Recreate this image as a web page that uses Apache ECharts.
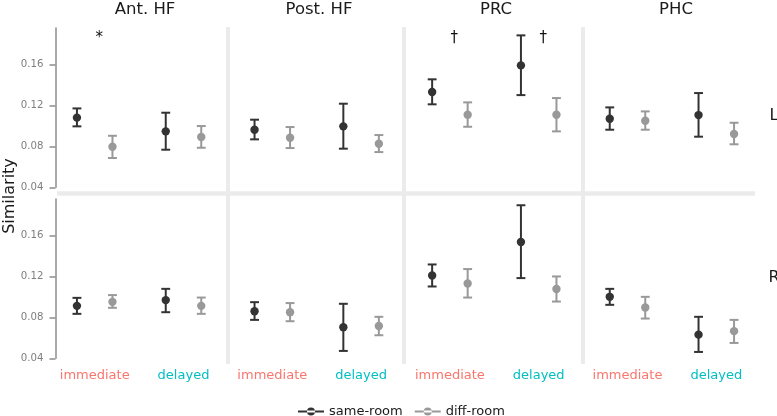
<!DOCTYPE html>
<html>
<head>
<meta charset="utf-8">
<script src="https://cdn.jsdelivr.net/npm/echarts@6/dist/echarts.min.js"></script>
<style>html,body{margin:0;padding:0;background:#fff}#c{width:777px;height:416px}</style>
</head>
<body>
<div id="c"></div>
<script>
// ---------- data ----------
const panels = ['Ant. HF', 'Post. HF', 'PRC', 'PHC'];
const hemis = ['L', 'R'];
const conditions = ['immediate', 'delayed'];
const groups = ['same-room', 'diff-room'];
const yTicks = [0.04, 0.08, 0.12, 0.16];
// order: AntHF imm, AntHF del, PostHF imm, PostHF del, PRC imm, PRC del, PHC imm, PHC del
const sameL_mean = [0.108, 0.0946, 0.0962, 0.0995, 0.133, 0.159, 0.1069, 0.1105];
const sameL_lo   = [0.0995, 0.0767, 0.0868, 0.0777, 0.121, 0.130, 0.0962, 0.0894];
const sameL_hi   = [0.117, 0.1128, 0.106, 0.1216, 0.1454, 0.1883, 0.118, 0.132];
const diffL_mean = [0.0796, 0.0891, 0.0884, 0.0825, 0.1108, 0.1108, 0.105, 0.092];
const diffL_lo   = [0.0686, 0.0786, 0.0783, 0.0744, 0.0991, 0.0946, 0.0962, 0.082];
const diffL_hi   = [0.0903, 0.0998, 0.0988, 0.091, 0.1229, 0.1271, 0.1141, 0.103];
const sameR_mean = [0.0912, 0.0968, 0.086, 0.0704, 0.1209, 0.1535, 0.100, 0.0631];
const sameR_lo   = [0.0834, 0.085, 0.0775, 0.0472, 0.1101, 0.1183, 0.0922, 0.0462];
const sameR_hi   = [0.099, 0.1078, 0.0948, 0.0932, 0.1316, 0.1894, 0.1078, 0.0805];
const diffR_mean = [0.0951, 0.0912, 0.085, 0.0716, 0.113, 0.1076, 0.0896, 0.0665];
const diffR_lo   = [0.0893, 0.0834, 0.0762, 0.0625, 0.0993, 0.0954, 0.0788, 0.055];
const diffR_hi   = [0.1017, 0.0993, 0.0939, 0.0805, 0.1271, 0.1199, 0.100, 0.0775];
// significance annotations
const annotPanel = [0, 2, 2];
const annotCond  = [0, 0, 1];
const annotText  = ['*', '\u2020', '\u2020'];
const annotY     = [0.186, 0.186, 0.186];

// ---------- layout / style ----------
const FONT = 'DejaVu Sans';
const dataLeft0 = 50.3, panelW = 177.6;
const rowTop = [28, 199], dataH = 159.3;
const yMin = 0.04, yMax = 0.1955;
const frameX = [57, 228, 403.5, 583, 755];
const frameRows = [[27, 193.5], [193.5, 364]];
const titleX = [140, 314, 491, 671];
const stripY = [103, 265];
const groupColors = ['#333333', '#999999'];
const condColors = ['#F8766D', '#00BFC4'];
const sepColor = '#ebebeb';

const table = {
  L: [[sameL_mean, sameL_lo, sameL_hi], [diffL_mean, diffL_lo, diffL_hi]],
  R: [[sameR_mean, sameR_lo, sameR_hi], [diffR_mean, diffR_lo, diffR_hi]]
};

const grid = [], xAxis = [], yAxis = [], series = [];

// data grids 0..7
for (let r = 0; r < 2; r++) {
  for (let c = 0; c < 4; c++) {
    grid.push({left: dataLeft0 + c * panelW, top: rowTop[r], width: panelW, height: dataH});
    xAxis.push({
      gridIndex: r * 4 + c, type: 'category', data: conditions, boundaryGap: true,
      axisLine: {show: false}, axisTick: {show: false}, splitLine: {show: false},
      axisLabel: {
        show: r === 1, interval: 0, hideOverlap: false, margin: 11, fontFamily: FONT, fontSize: 13,
        color: (v, i) => condColors[conditions.indexOf(v)]
      }
    });
    const showY = c === 0;
    yAxis.push({
      gridIndex: r * 4 + c, type: 'value', min: yMin, max: yMax, show: showY,
      offset: -5.2,
      splitLine: {show: false},
      axisLine: {show: showY, lineStyle: {color: '#8c8c8c', width: 1.5}},
      axisTick: {show: showY, length: 6, customValues: yTicks, lineStyle: {color: '#8c8c8c', width: 1.5}},
      axisLabel: {show: showY, customValues: yTicks, margin: 12, fontFamily: FONT, fontSize: 10.2, color: '#7f7f7f',
                  formatter: v => v.toFixed(2)}
    });
  }
}
// frame grids 8..15 (panel separators)
for (let r = 0; r < 2; r++) {
  for (let c = 0; c < 4; c++) {
    const gi = grid.length;
    grid.push({left: frameX[c], top: frameRows[r][0], width: frameX[c + 1] - frameX[c],
               height: frameRows[r][1] - frameRows[r][0]});
    xAxis.push({gridIndex: gi, type: 'value', min: 0, max: 1, show: r === 0,
      axisLine: {show: r === 0, lineStyle: {color: sepColor, width: 4.5, cap: 'butt'}},
      axisTick: {show: false}, axisLabel: {show: false}, splitLine: {show: false}});
    yAxis.push({gridIndex: gi, type: 'value', min: 0, max: 1, show: c > 0,
      axisLine: {show: c > 0, lineStyle: {color: sepColor, width: 4, cap: 'butt'}},
      axisTick: {show: false}, axisLabel: {show: false}, splitLine: {show: false}});
  }
}
// y title grid 16
grid.push({left: 55.5, top: 28, width: 1, height: 336});
xAxis.push({gridIndex: 16, type: 'value', show: false, min: 0, max: 1});
yAxis.push({gridIndex: 16, type: 'value', min: 0, max: 1, name: 'Similarity', nameLocation: 'middle',
  nameGap: 38, nameTextStyle: {fontFamily: FONT, fontSize: 16, color: '#1a1a1a'},
  axisLine: {show: false}, axisTick: {show: false}, axisLabel: {show: false}, splitLine: {show: false}});

function makeRender(side) {
  return function (params, api) {
    const xi = api.value(0);
    const p = api.coord([xi, api.value(1)]);
    const lo = api.coord([xi, api.value(2)]);
    const hi = api.coord([xi, api.value(3)]);
    const bw = api.size([1, 0])[0];
    const x = p[0] + side * 0.2 * bw;
    const cap = 0.05 * bw;
    const color = api.visual('color');
    const ls = {stroke: color, lineWidth: 2};
    return {type: 'group', children: [
      {type: 'line', shape: {x1: x, y1: hi[1], x2: x, y2: lo[1]}, style: ls},
      {type: 'line', shape: {x1: x - cap, y1: hi[1], x2: x + cap, y2: hi[1]}, style: ls},
      {type: 'line', shape: {x1: x - cap, y1: lo[1], x2: x + cap, y2: lo[1]}, style: ls},
      {type: 'circle', shape: {cx: x, cy: p[1], r: 4.2}, style: {fill: color}}
    ]};
  };
}

for (let r = 0; r < 2; r++) {
  const h = hemis[r];
  for (let c = 0; c < 4; c++) {
    for (let g = 0; g < 2; g++) {
      const [m, lo, hi] = table[h][g];
      const data = conditions.map((cond, k) => [k, m[c * 2 + k], lo[c * 2 + k], hi[c * 2 + k]]);
      series.push({
        type: 'custom', name: groups[g], xAxisIndex: r * 4 + c, yAxisIndex: r * 4 + c,
        itemStyle: {color: groupColors[g]},
        encode: {x: 0, y: 1},
        data: data, renderItem: makeRender(g === 0 ? -1 : 1), silent: true
      });
    }
  }
}
// annotations (top row)
for (let c = 0; c < 4; c++) {
  const data = [];
  annotPanel.forEach((p, i) => { if (p === c) data.push([annotCond[i], annotY[i], annotText[i]]); });
  if (!data.length) continue;
  series.push({
    type: 'custom', name: 'annot', xAxisIndex: c, yAxisIndex: c, encode: {x: 0, y: 1}, data: data,
    renderItem: function (params, api) {
      const p = api.coord([api.value(0), api.value(1)]);
      const bw = api.size([1, 0])[0];
      return {type: 'text', x: p[0] + 0.05 * bw, y: p[1],
        style: {text: data[params.dataIndex][2], fill: '#111', font: '15px "DejaVu Sans"',
                align: 'center', verticalAlign: 'middle'}};
    }
  });
}

const title = panels.map((t, c) => ({
  text: t, left: titleX[c], top: -4, textAlign: 'center',
  textStyle: {fontFamily: FONT, fontSize: 16.5, fontWeight: 'normal', color: '#1a1a1a'}
}));
hemis.forEach((t, r) => title.push({
  text: t, left: 769, top: stripY[r], textAlign: 'center',
  textStyle: {fontFamily: FONT, fontSize: 16, fontWeight: 'normal', color: '#1a1a1a'}
}));

const icon = 'path://M0,4h26v2h-26z M9,5a4,4 0 1,0 8,0a4,4 0 1,0 -8,0z';
const chart = echarts.init(document.getElementById('c'), null, {renderer: 'canvas'});
chart.setOption({
  backgroundColor: '#ffffff',
  animation: false,
  title: title,
  legend: {
    data: groups.map(g => ({name: g, icon: icon})),
    left: 293, top: 400, itemWidth: 26, itemHeight: 10, itemGap: 12,
    textStyle: {fontFamily: FONT, fontSize: 13, color: '#1a1a1a'}
  },
  grid: grid, xAxis: xAxis, yAxis: yAxis, series: series
});
</script>
</body>
</html>
